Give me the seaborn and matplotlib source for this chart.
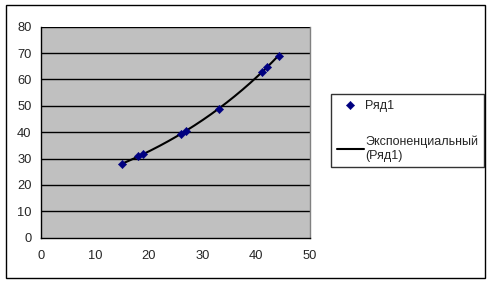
import numpy as np
import pandas as pd
import matplotlib
matplotlib.use("Agg")
import matplotlib.pyplot as plt
import seaborn as sns
from matplotlib.patches import Rectangle

x_vals = [15, 18, 19, 26, 27, 33, 41, 42, 44.2]
y_vals = [28, 30.8, 31.8, 39.3, 40.5, 48.9, 62.9, 64.8, 68.9]
series_name = "Ряд1"
trend_name = "Экспоненциальный\n(Ряд1)"
x_ticks = [0, 10, 20, 30, 40, 50]
y_ticks = [0, 10, 20, 30, 40, 50, 60, 70, 80]

sns.set_style("white")
plt.rcParams['font.family'] = ['Liberation Sans', 'DejaVu Sans']

df = pd.DataFrame({"x": x_vals, "y": y_vals})
# Exponential trend (log-linear least squares, like Excel)
b, ln_a = np.polyfit(df["x"], np.log(df["y"]), 1)
tx = np.linspace(min(x_vals), max(x_vals), 200)
trend = pd.DataFrame({"x": tx, "y": np.exp(ln_a) * np.exp(b * tx)})

fig = plt.figure(figsize=(4.91, 2.84), dpi=100)
W, H = 491, 284
ax = fig.add_axes([41.3 / W, 1 - 237.7 / H, (310 - 41.3) / W, (237.7 - 26.7) / H])
ax.set_facecolor("#C0C0C0")

for yv in y_ticks[1:]:
    ax.axhline(yv, color="black", lw=1, zorder=1)

sns.lineplot(data=trend, x="x", y="y", ax=ax, color="black", lw=1.5, zorder=2, label=trend_name)
sns.scatterplot(data=df, x="x", y="y", ax=ax, marker="D", s=18, color="#000080",
                edgecolor="#000080", zorder=3, label=series_name)

ax.set_xlim(0, 50)
ax.set_ylim(0, 80)
ax.set_xticks(x_ticks)
ax.set_yticks(y_ticks)
ax.set_xlabel("")
ax.set_ylabel("")
ax.tick_params(axis="both", direction="out", length=4, width=1, color="black",
               labelsize=9.3, pad=3)
ax.tick_params(axis="x", pad=5)
for s in ["left", "bottom"]:
    ax.spines[s].set_color("black")
    ax.spines[s].set_linewidth(1)
ax.spines["top"].set_visible(False)
ax.spines["right"].set_color("#808080")
ax.spines["right"].set_linewidth(1)

handles, labels = ax.get_legend_handles_labels()
order = [labels.index(series_name), labels.index(trend_name)]
leg = fig.legend([handles[i] for i in order], [labels[i] for i in order],
                 loc="upper left", bbox_to_anchor=(331 / W, 1 - 94 / H),
                 bbox_transform=fig.transFigure, fontsize=9.0, frameon=True,
                 fancybox=False, edgecolor="black", borderpad=0.45,
                 handlelength=2.2, handletextpad=0.1, labelspacing=1.9,
                 borderaxespad=0)
leg.get_frame().set_linewidth(1)
if ax.get_legend():
    ax.get_legend().remove()

fig.patches.append(Rectangle((6 / W, 1 - 278 / H), (485 - 6) / W, (278 - 5) / H,
                             transform=fig.transFigure, fill=False,
                             edgecolor="black", lw=1))

fig.savefig("out.png", dpi=100)
